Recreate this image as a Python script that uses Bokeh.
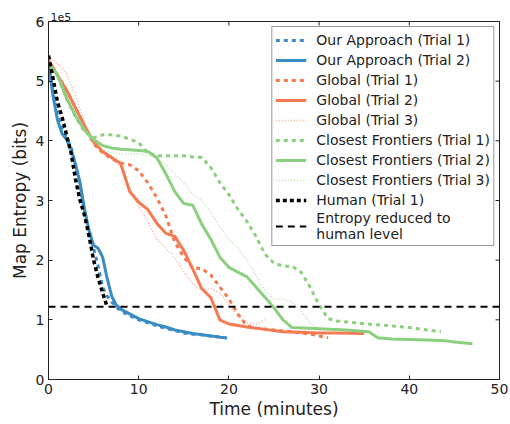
import math
from bokeh.plotting import figure
from bokeh.models import Legend, LegendItem, FixedTicker, Range1d, Title
from bokeh.embed import file_html
from bokeh.resources import INLINE

FONT = "DejaVu Sans"

# Time (minutes) and map entropy (in units of 1e5 bits)
our1_t = [0, 0.5, 1, 1.5, 2, 2.5, 3, 3.5, 4, 4.5, 5, 5.5, 6, 6.5, 7, 7.5, 8, 9, 10, 11, 12, 13, 14, 15, 16, 17, 18, 19, 20]
our1_y = [5.3, 4.8, 4.45, 4.2, 4.05, 3.9, 3.6, 3.25, 2.8, 2.45, 2.2, 1.9, 1.55, 1.4, 1.3, 1.22, 1.15, 1.07, 1.0, 0.95, 0.9, 0.86, 0.82, 0.78, 0.76, 0.75, 0.73, 0.71, 0.69]

our2_t = [0, 0.5, 1, 1.5, 2, 2.5, 3, 3.5, 4, 4.5, 5, 5.5, 6, 6.5, 7, 7.5, 8, 9, 10, 11, 12, 13, 14, 15, 16, 17, 18, 19, 19.6]
our2_y = [5.3, 4.75, 4.35, 4.12, 4.02, 3.85, 3.6, 3.3, 2.85, 2.5, 2.25, 2.2, 2.05, 1.7, 1.4, 1.25, 1.18, 1.1, 1.02, 0.97, 0.92, 0.88, 0.83, 0.8, 0.77, 0.75, 0.73, 0.71, 0.70]

glob1_t = [0, 1, 2, 3, 4, 5, 6, 7, 8, 9, 10, 11, 12, 13, 14, 15, 16, 17, 18, 19, 20, 21, 22, 23, 25, 27, 29, 31]
glob1_y = [5.35, 5.1, 4.85, 4.55, 4.25, 3.95, 3.8, 3.7, 3.63, 3.6, 3.5, 3.3, 3.05, 2.75, 2.3, 2.05, 1.87, 1.86, 1.75, 1.55, 1.35, 1.1, 0.9, 0.86, 0.83, 0.8, 0.76, 0.70]

glob2_t = [0, 1, 2, 3, 4, 5, 6, 7, 8, 9, 10, 11, 12, 13, 14, 15, 16, 17, 18, 19, 20, 22, 24, 26, 28, 30, 32, 35]
glob2_y = [5.35, 5.1, 4.85, 4.55, 4.25, 3.98, 3.82, 3.72, 3.62, 3.15, 2.97, 2.85, 2.62, 2.45, 2.4, 2.16, 1.85, 1.52, 1.37, 1.0, 0.93, 0.88, 0.84, 0.8, 0.79, 0.78, 0.78, 0.77]

glob3_t = [0, 1, 2, 3, 4, 5, 6, 7, 8, 9, 10, 11, 12, 13, 14, 15, 16, 17, 18, 19, 20, 21, 22, 23, 24]
glob3_y = [5.4, 5.3, 5.13, 4.75, 4.3, 3.95, 3.8, 3.7, 3.55, 3.2, 2.9, 2.65, 2.35, 2.2, 2.05, 1.8, 1.6, 1.5, 1.52, 1.45, 1.25, 1.05, 0.95, 0.93, 1.0]

cf1_t = [0, 1, 2, 3, 4, 5, 6, 7, 8, 9, 10, 11, 12, 13, 14, 15, 16, 17, 18, 19, 20, 21, 22, 23, 24, 25, 26, 27, 28, 29, 30, 31, 32, 34, 36, 38, 40, 42, 43.5]
cf1_y = [5.3, 5.1, 4.7, 4.4, 4.15, 4.05, 4.1, 4.1, 4.08, 4.03, 3.97, 3.8, 3.75, 3.75, 3.75, 3.75, 3.73, 3.72, 3.55, 3.3, 3.1, 2.85, 2.65, 2.4, 2.1, 1.95, 1.9, 1.9, 1.8, 1.55, 1.25, 1.02, 0.98, 0.95, 0.92, 0.9, 0.87, 0.83, 0.8]

cf2_t = [0, 1, 2, 3, 4, 5, 6, 7, 8, 9, 10, 11, 12, 13, 14, 15, 16, 17, 18, 19, 20, 21, 22, 23, 24, 25, 26, 27, 30, 33, 35.5, 36.5, 38, 40, 42, 44, 45, 47]
cf2_y = [5.3, 5.1, 4.72, 4.42, 4.18, 4.02, 3.92, 3.88, 3.86, 3.85, 3.84, 3.82, 3.72, 3.45, 3.15, 2.95, 2.92, 2.6, 2.35, 2.05, 1.88, 1.8, 1.72, 1.55, 1.38, 1.2, 1.0, 0.87, 0.85, 0.83, 0.8, 0.7, 0.68, 0.67, 0.66, 0.65, 0.63, 0.6]

cf3_t = [0, 1, 2, 3, 4, 5, 6, 7, 8, 9, 10, 11, 12, 13, 14, 15, 16, 17, 18, 19, 20, 21, 22, 23, 24, 25, 26, 27, 28, 29, 30]
cf3_y = [5.3, 5.1, 4.72, 4.42, 4.15, 4.0, 3.85, 3.8, 3.78, 3.78, 3.78, 3.76, 3.7, 3.6, 3.45, 3.3, 3.1, 3.0, 2.8, 2.55, 2.35, 2.2, 2.0, 1.75, 1.5, 1.35, 1.35, 1.3, 1.15, 0.95, 0.85]

human_t = [0, 0.5, 1, 1.5, 2, 2.5, 3, 3.5, 4, 4.5, 5, 5.5, 6, 6.5]
human_y = [5.43, 5.05, 4.65, 4.4, 4.1, 3.8, 3.35, 3.0, 2.75, 2.4, 2.0, 1.7, 1.45, 1.22]

HUMAN_LEVEL = 1.22

x_ticks = [0, 10, 20, 30, 40, 50]
y_ticks = [0, 1, 2, 3, 4, 5, 6]
y_scale_label = "1e5"

labels = ["Our Approach (Trial 1)", "Our Approach (Trial 2)",
          "Global (Trial 1)", "Global (Trial 2)", "Global (Trial 3)",
          "Closest Frontiers (Trial 1)", "Closest Frontiers (Trial 2)", "Closest Frontiers (Trial 3)",
          "Human (Trial 1)", "Entropy reduced to\nhuman level"]

BLUE = "#3a8cc4"
ORANGE = "#f57a52"
GREEN = "#8ccf7e"
INK = "#222222"

p = figure(width=508, height=422, output_backend="svg", toolbar_location=None,
           x_range=Range1d(x_ticks[0], x_ticks[-1]), y_range=Range1d(y_ticks[0], y_ticks[-1]),
           min_border_left=48, min_border_right=9, min_border_top=21, min_border_bottom=43)
p.xgrid.visible = False
p.ygrid.visible = False
p.outline_line_color = INK
p.outline_line_width = 1
p.background_fill_color = "white"
p.border_fill_color = "white"

for ax, ticks in ((p.xaxis[0], x_ticks), (p.yaxis[0], y_ticks)):
    ax.ticker = FixedTicker(ticks=ticks)
    ax.major_tick_in = 4
    ax.major_tick_out = 0
    ax.minor_tick_line_color = None
    ax.axis_line_color = INK
    ax.major_tick_line_color = INK
    ax.major_label_text_font = FONT
    ax.major_label_text_font_size = "14px"
    ax.major_label_text_color = INK
    ax.axis_label_text_font = FONT
    ax.axis_label_text_font_size = "17px"
    ax.axis_label_text_font_style = "normal"
    ax.axis_label_text_color = INK

p.xaxis.axis_label = "Time (minutes)"
p.yaxis.axis_label = "Map Entropy (bits)"
p.xaxis.major_label_standoff = 4
p.xaxis.axis_label_standoff = 2
p.yaxis.major_label_standoff = 4
p.yaxis.axis_label_standoff = 3

# inward tick marks on the top and right edges (mirroring the bottom/left ticks)
p.scatter(x_ticks, [y_ticks[-1]] * len(x_ticks), marker="dash", size=8, angle=math.pi / 2,
          line_color=INK, line_width=1)
p.scatter([x_ticks[-1]] * len(y_ticks), y_ticks, marker="dash", size=8,
          line_color=INK, line_width=1)

r_our1 = p.line(our1_t, our1_y, line_color=BLUE, line_width=3, line_dash="4 4")
r_our2 = p.line(our2_t, our2_y, line_color=BLUE, line_width=3)
r_g1 = p.line(glob1_t, glob1_y, line_color=ORANGE, line_width=3, line_dash="4 4")
r_g2 = p.line(glob2_t, glob2_y, line_color=ORANGE, line_width=3)
r_g3 = p.line(glob3_t, glob3_y, line_color=ORANGE, line_width=1.5, line_dash="1 2", line_alpha=0.6)
r_c1 = p.line(cf1_t, cf1_y, line_color=GREEN, line_width=3, line_dash="4 4")
r_c2 = p.line(cf2_t, cf2_y, line_color=GREEN, line_width=3)
r_c3 = p.line(cf3_t, cf3_y, line_color=GREEN, line_width=1.5, line_dash="1 2", line_alpha=0.6)
r_h = p.line(human_t, human_y, line_color="black", line_width=3.5, line_dash="4 3")
r_lvl = p.line([x_ticks[0], x_ticks[-1]], [HUMAN_LEVEL, HUMAN_LEVEL], line_color="black",
               line_width=2, line_dash="7 5")

renderers = [r_our1, r_our2, r_g1, r_g2, r_g3, r_c1, r_c2, r_c3, r_h, r_lvl]
legend = Legend(items=[LegendItem(label=l, renderers=[r]) for l, r in zip(labels, renderers)],
                location="top_right", margin=5, padding=3, spacing=0,
                glyph_width=31, glyph_height=20, label_height=20, label_standoff=10,
                label_text_font=FONT, label_text_font_size="14px", label_text_color=INK,
                border_line_color="#333333", border_line_width=1,
                background_fill_color="white", background_fill_alpha=1)
p.add_layout(legend, "center")

p.add_layout(Title(text=y_scale_label, align="left", offset=2, standoff=1,
                   text_font=FONT, text_font_size="11px", text_font_style="normal",
                   text_color=INK), "above")

open("out.html", "w").write(file_html(p, INLINE))
